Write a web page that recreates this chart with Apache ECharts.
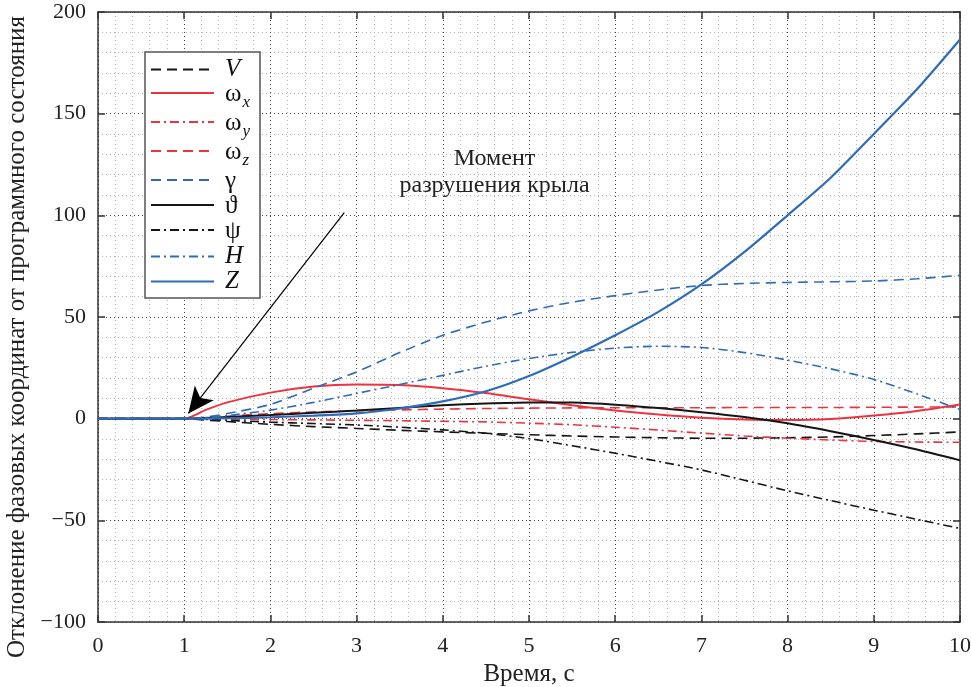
<!DOCTYPE html>
<html>
<head>
<meta charset="utf-8">
<script src="https://cdn.jsdelivr.net/npm/echarts@6/dist/echarts.min.js"></script>
<style>
  html, body { margin: 0; padding: 0; background: #fff; }
  #chart { width: 971px; height: 687px; }
</style>
</head>
<body>
<div id="chart"></div>
<script>
// Time grid, s
const time = [0, 0.5, 1, 1.25, 1.5, 2, 2.5, 3, 3.5, 4, 4.5, 5, 5.5, 6, 6.5, 7, 7.5, 8, 8.5, 9, 9.5, 10];

// Deviations of the phase coordinates from the programmed state
const devV      = [0, 0, 0, -0.7, -1.4, -2.8, -3.9, -4.8, -5.7, -6.5, -7.2, -7.9, -8.5, -9.0, -9.4, -9.6, -9.6, -9.4, -9.0, -8.3, -7.5, -6.5];
const devOmegaX = [0, 0, 0, 4.3, 8.0, 12.8, 15.8, 16.8, 16.5, 15.0, 12.6, 9.5, 6.6, 4.0, 2.0, 0.5, -0.4, -0.7, -0.2, 1.5, 3.8, 7.0];
const devOmegaY = [0, 0, 0, -0.1, -0.2, -0.4, -0.6, -0.8, -1.0, -1.3, -1.6, -2.2, -3.0, -4.2, -5.6, -7.1, -8.5, -9.6, -10.5, -11.2, -11.5, -11.6];
const devOmegaZ = [0, 0, 0, 0.5, 1.2, 2.5, 3.3, 3.9, 4.3, 4.7, 5.0, 5.2, 5.3, 5.4, 5.4, 5.4, 5.5, 5.5, 5.5, 5.6, 5.7, 5.8];
const devGamma  = [0, 0, 0, 0.8, 2.5, 7.0, 15.0, 23.0, 32.5, 41.0, 47.5, 53.0, 57.3, 60.5, 63.3, 65.5, 66.5, 67.0, 67.3, 67.7, 68.8, 70.5];
const devTheta  = [0, 0, 0, 0.3, 0.8, 1.8, 2.9, 4.0, 5.3, 6.6, 7.5, 8.0, 7.9, 6.9, 5.2, 3.2, 0.8, -2.3, -6.2, -10.5, -15.2, -20.5];
const devPsi    = [0, 0, 0, -0.4, -0.8, -1.7, -2.4, -3.1, -4.2, -5.5, -7.2, -9.8, -13.3, -17.0, -21.0, -25.2, -30.3, -35.5, -40.3, -45.0, -49.5, -54.0];
const devH      = [0, 0, 0, 0.5, 1.5, 4.2, 8.0, 12.4, 16.8, 21.3, 25.8, 29.6, 32.6, 34.7, 35.6, 35.0, 32.5, 28.8, 24.5, 19.3, 12.2, 4.5];
const devZ      = [0, 0, 0, 0.05, 0.2, 0.7, 1.5, 2.6, 5.0, 8.5, 13.5, 21.0, 30.5, 41.0, 52.5, 66.0, 82.0, 100.0, 118.5, 140.0, 162.0, 186.5];

// Axis ticks
const xTicks = { min: 0, max: 10, step: 1 };
const yTicks = { min: -100, max: 200, step: 50 };

// Annotation: wing failure moment
const failureNote = 'Момент\nразрушения крыла';
const arrowFrom = [2.857, 101.3];
const arrowTo = [1.048, 2.6];
const noteAt = [4.6, 121];

const FONT = '"Liberation Serif", "DejaVu Serif", serif';
const RED = '#ec3340';
const BLUE = '#2f6cb8';
const BLACK = '#151515';
const DASH = [10, 6];
const DASHDOT = [9, 4, 2, 4];

const seriesDefs = [
  { name: 'V',  data: devV,      color: BLACK, type: DASH,    width: 1.6 },
  { name: 'ωx', data: devOmegaX, color: RED,   type: 'solid', width: 2 },
  { name: 'ωy', data: devOmegaY, color: RED,   type: DASHDOT, width: 1.6 },
  { name: 'ωz', data: devOmegaZ, color: RED,   type: DASH,    width: 1.6 },
  { name: 'γ',  data: devGamma,  color: BLUE,  type: DASH,    width: 1.6 },
  { name: 'ϑ',  data: devTheta,  color: BLACK, type: 'solid', width: 2 },
  { name: 'ψ',  data: devPsi,    color: BLACK, type: DASHDOT, width: 1.6 },
  { name: 'H',  data: devH,      color: BLUE,  type: DASHDOT, width: 1.6 },
  { name: 'Z',  data: devZ,      color: BLUE,  type: 'solid', width: 2.2 }
];

const legendText = {
  'V': '{i|V}',
  'ωx': '{r|ω}{s|x}',
  'ωy': '{r|ω}{s|y}',
  'ωz': '{r|ω}{s|z}',
  'γ': '{r|γ}',
  'ϑ': '{r|ϑ}',
  'ψ': '{r|ψ}',
  'H': '{i|H}',
  'Z': '{i|Z}'
};

const fmtNum = v => (v < 0 ? '\u2212' + Math.abs(v) : String(v));

const series = seriesDefs.map(d => ({
  name: d.name,
  type: 'line',
  xAxisIndex: 0,
  yAxisIndex: 0,
  data: time.map((t, i) => [t, d.data[i]]),
  symbol: 'none',
  smooth: 0.25,
  color: d.color,
  lineStyle: { color: d.color, width: d.width, type: d.type },
  emphasis: { disabled: true },
  z: 3
}));

// Arrow and caption for the wing failure moment
series.push({
  name: 'note',
  type: 'line',
  data: [],
  silent: true,
  markLine: {
    silent: true,
    symbol: ['none', 'arrow'],
    symbolSize: [18, 26],
    lineStyle: { color: '#000', width: 1.2, type: 'solid' },
    label: { show: false },
    data: [[{ coord: arrowFrom }, { coord: arrowTo }]]
  },
  markPoint: {
    silent: true,
    symbol: 'circle',
    symbolSize: 0,
    label: {
      show: true,
      position: 'inside',
      formatter: failureNote,
      fontFamily: FONT,
      fontSize: 24,
      lineHeight: 27,
      color: '#222',
      align: 'center'
    },
    data: [{ coord: noteAt }]
  },
  z: 4
});

const gridLine = { show: true, lineStyle: { color: '#444', width: 1, type: [1, 3] } };
const minorLine = { show: true, lineStyle: { color: '#b4b4b4', width: 1, type: [1, 3] } };

const chart = echarts.init(document.getElementById('chart'), null, { renderer: 'canvas' });
chart.setOption({
  animation: false,
  backgroundColor: '#fff',
  grid: { left: 98, right: 11, top: 12, bottom: 65, containLabel: false, outerBoundsMode: 'none' },
  legend: {
    data: seriesDefs.map(d => d.name),
    orient: 'vertical',
    left: 145,
    top: 52,
    padding: [5, 10, 4, 5],
    itemWidth: 63,
    itemHeight: 14,
    itemGap: 0,
    backgroundColor: '#fff',
    borderColor: '#555',
    borderWidth: 1.5,
    borderRadius: 0,
    selectedMode: false,
    itemStyle: { opacity: 0 },
    formatter: name => legendText[name],
    textStyle: {
      fontFamily: FONT,
      color: '#111',
      padding: [0, 0, 0, 6],
      rich: {
        i: { fontFamily: FONT, fontSize: 25, fontStyle: 'italic', lineHeight: 22 },
        r: { fontFamily: FONT, fontSize: 25, lineHeight: 22, verticalAlign: 'top' },
        s: { fontFamily: FONT, fontSize: 17, fontStyle: 'italic', lineHeight: 16, padding: [12, 0, 0, 1], verticalAlign: 'top' }
      }
    }
  },
  xAxis: [
    {
      type: 'value', position: 'bottom',
      min: xTicks.min, max: xTicks.max, interval: xTicks.step,
      name: 'Время, с', nameLocation: 'middle', nameGap: 40,
      nameTextStyle: { fontFamily: FONT, fontSize: 25, color: '#222' },
      axisLine: { show: true, onZero: false, lineStyle: { color: '#333', width: 1.5 } },
      axisTick: { show: true, inside: true, length: 7, lineStyle: { color: '#333', width: 1.5 } },
      axisLabel: { fontFamily: FONT, fontSize: 22, color: '#222', margin: 13 },
      splitLine: gridLine,
      minorTick: { show: false, splitNumber: 5 },
      minorSplitLine: minorLine
    },
    {
      type: 'value', position: 'top',
      min: xTicks.min, max: xTicks.max, interval: xTicks.step,
      axisLine: { show: true, onZero: false, lineStyle: { color: '#333', width: 1.5 } },
      axisTick: { show: true, inside: true, length: 7, lineStyle: { color: '#333', width: 1.5 } },
      axisLabel: { show: false },
      splitLine: { show: false }
    }
  ],
  yAxis: [
    {
      type: 'value', position: 'left',
      min: yTicks.min, max: yTicks.max, interval: yTicks.step,
      name: 'Отклонение фазовых координат от программного состояния',
      nameLocation: 'middle', nameGap: 67, nameRotate: 90,
      nameTextStyle: { fontFamily: FONT, fontSize: 25, color: '#222', padding: [0, 40, 0, 0] },
      axisLine: { show: true, onZero: false, lineStyle: { color: '#333', width: 1.5 } },
      axisTick: { show: true, inside: true, length: 7, lineStyle: { color: '#333', width: 1.5 } },
      axisLabel: { fontFamily: FONT, fontSize: 22, color: '#222', margin: 12, formatter: fmtNum },
      splitLine: gridLine,
      minorTick: { show: false, splitNumber: 5 },
      minorSplitLine: minorLine
    },
    {
      type: 'value', position: 'right',
      min: yTicks.min, max: yTicks.max, interval: yTicks.step,
      axisLine: { show: true, onZero: false, lineStyle: { color: '#333', width: 1.5 } },
      axisTick: { show: true, inside: true, length: 7, lineStyle: { color: '#333', width: 1.5 } },
      axisLabel: { show: false },
      splitLine: { show: false }
    }
  ],
  series: series
});
</script>
</body>
</html>
